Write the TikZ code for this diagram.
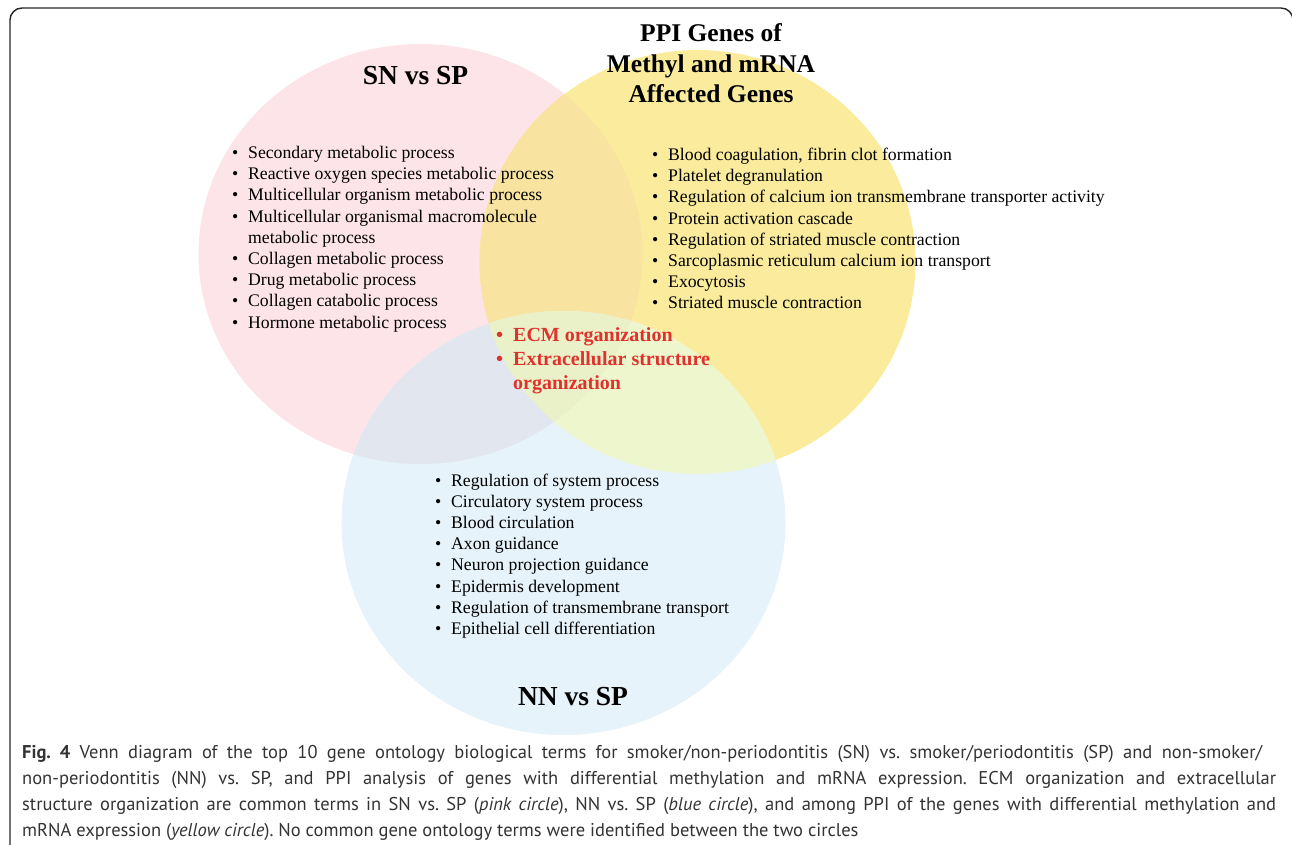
\documentclass[tikz,border=0pt]{standalone}
\usepackage{fontspec}
\setmainfont{Liberation Serif}
\newfontfamily\capfont{PT Sans}
\definecolor{pinkc}{HTML}{FDE4E9}
\definecolor{yellowc}{HTML}{FBEC9D}
\definecolor{bluec}{HTML}{E6F3FA}
\definecolor{pyc}{HTML}{F8E4A0}
\definecolor{pbc}{HTML}{E2E6EF}
\definecolor{ybc}{HTML}{EEF6CE}
\definecolor{pybc}{HTML}{EAF0C8}
\definecolor{redc}{HTML}{E0322D}
\definecolor{capc}{HTML}{333333}
\newcommand{\bt}{\llap{\textbullet\hspace{10pt}}}
\begin{document}
\begin{tikzpicture}[x=1pt,y=-1pt,
  item/.style={anchor=base west, inner sep=0pt, font=\fontsize{17.7}{21}\selectfont, text=black},
  hitem/.style={anchor=base west, inner sep=0pt, font=\fontsize{20}{24}\selectfont\bfseries, text=redc},
  head/.style={anchor=base, inner sep=0pt, font=\fontsize{27.5}{31}\selectfont\bfseries, text=black},
  ppihead/.style={anchor=base, inner sep=0pt, font=\fontsize{25.5}{31}\selectfont\bfseries, text=black},
  capline/.style={anchor=base west, inner sep=0pt, font=\capfont\frenchspacing\fontsize{18.5}{26}\selectfont, text=capc},
  frame/.style={draw=black!85, line width=1.4pt, rounded corners=12pt}
]
\useasboundingbox (0,0) rectangle (1292,845);
\def\Pshape{(420.5,254) ellipse [x radius=222pt, y radius=210pt]}
\def\Yshape{(697.5,262) ellipse [x radius=218pt, y radius=212pt]}
\def\Bshape{(563.5,523) ellipse [x radius=222pt, y radius=212pt]}
% frame
\begin{scope}
\clip (0,0) rectangle (1292,845);
\draw[frame] (10,8) rectangle (1293,857);
\end{scope}
% circles
\fill[pinkc] \Pshape;
\fill[yellowc] \Yshape;
\fill[bluec] \Bshape;
\begin{scope} \clip \Pshape; \fill[pyc] \Yshape; \end{scope}
\begin{scope} \clip \Pshape; \fill[pbc] \Bshape; \end{scope}
\begin{scope} \clip \Yshape; \fill[ybc] \Bshape; \end{scope}
\begin{scope} \clip \Pshape; \clip \Yshape; \fill[pybc] \Bshape; \end{scope}
% headings
\node[head] (hsn) at (415.5,85) {SN vs SP};
\node[ppihead] (hppi1) at (711,42) {PPI Genes of};
\node[ppihead] (hppi2) at (711,73) {Methyl and mRNA};
\node[ppihead] (hppi3) at (711,103) {Affected Genes};
\node[head] (hnn) at (573,705) {NN vs SP};
% pink list
\node[item] (p1) at (248,158.5) {\bt Secondary metabolic process};
\node[item] (p2) at (248,179.7) {\bt Reactive oxygen species metabolic process};
\node[item] (p3) at (248,200.9) {\bt Multicellular organism metabolic process};
\node[item] (p4) at (248,222.1) {\bt Multicellular organismal macromolecule};
\node[item] (p5) at (248,243.3) {metabolic process};
\node[item] (p6) at (248,264.5) {\bt Collagen metabolic process};
\node[item] (p7) at (248,285.7) {\bt Drug metabolic process};
\node[item] (p8) at (248,306.9) {\bt Collagen catabolic process};
\node[item] (p9) at (248,328.1) {\bt Hormone metabolic process};
% yellow list
\node[item] (y1) at (668,160.5) {\bt Blood coagulation, fibrin clot formation};
\node[item] (y2) at (668,181.7) {\bt Platelet degranulation};
\node[item] (y3) at (668,202.9) {\bt Regulation of calcium ion transmembrane transporter activity};
\node[item] (y4) at (668,224.1) {\bt Protein activation cascade};
\node[item] (y5) at (668,245.3) {\bt Regulation of striated muscle contraction};
\node[item] (y6) at (668,266.5) {\bt Sarcoplasmic reticulum calcium ion transport};
\node[item] (y7) at (668,287.7) {\bt Exocytosis};
\node[item] (y8) at (668,308.9) {\bt Striated muscle contraction};
% common
\node[hitem] (c1) at (513,341.5) {\bt ECM organization};
\node[hitem] (c2) at (513,365.5) {\bt Extracellular structure};
\node[hitem] (c3) at (513,389.5) {organization};
% blue list
\node[item] (b1) at (451,486) {\bt Regulation of system process};
\node[item] (b2) at (451,507.2) {\bt Circulatory system process};
\node[item] (b3) at (451,528.4) {\bt Blood circulation};
\node[item] (b4) at (451,549.6) {\bt Axon guidance};
\node[item] (b5) at (451,570.8) {\bt Neuron projection guidance};
\node[item] (b6) at (451,592) {\bt Epidermis development};
\node[item] (b7) at (451,613.2) {\bt Regulation of transmembrane transport};
\node[item] (b8) at (451,634.4) {\bt Epithelial cell differentiation};
% caption
\node[capline] (cap1) at (22,758) {\makebox[1240pt][s]{\textbf{Fig. 4} Venn diagram of the top 10 gene ontology biological terms for smoker/non-periodontitis (SN) vs. smoker/periodontitis (SP) and non-smoker/}};
\node[capline] (cap2) at (22,784) {\makebox[1254pt][s]{non-periodontitis (NN) vs. SP, and PPI analysis of genes with differential methylation and mRNA expression. ECM organization and extracellular}};
\node[capline] (cap3) at (22,810) {\makebox[1254pt][s]{structure organization are common terms in SN vs. SP (\textit{pink circle}), NN vs. SP (\textit{blue circle}), and among PPI of the genes with differential methylation and}};
\node[capline] (cap4) at (22,836) {mRNA expression (\textit{yellow circle}). No common gene ontology terms were identified between the two circles};
\end{tikzpicture}
\end{document}
